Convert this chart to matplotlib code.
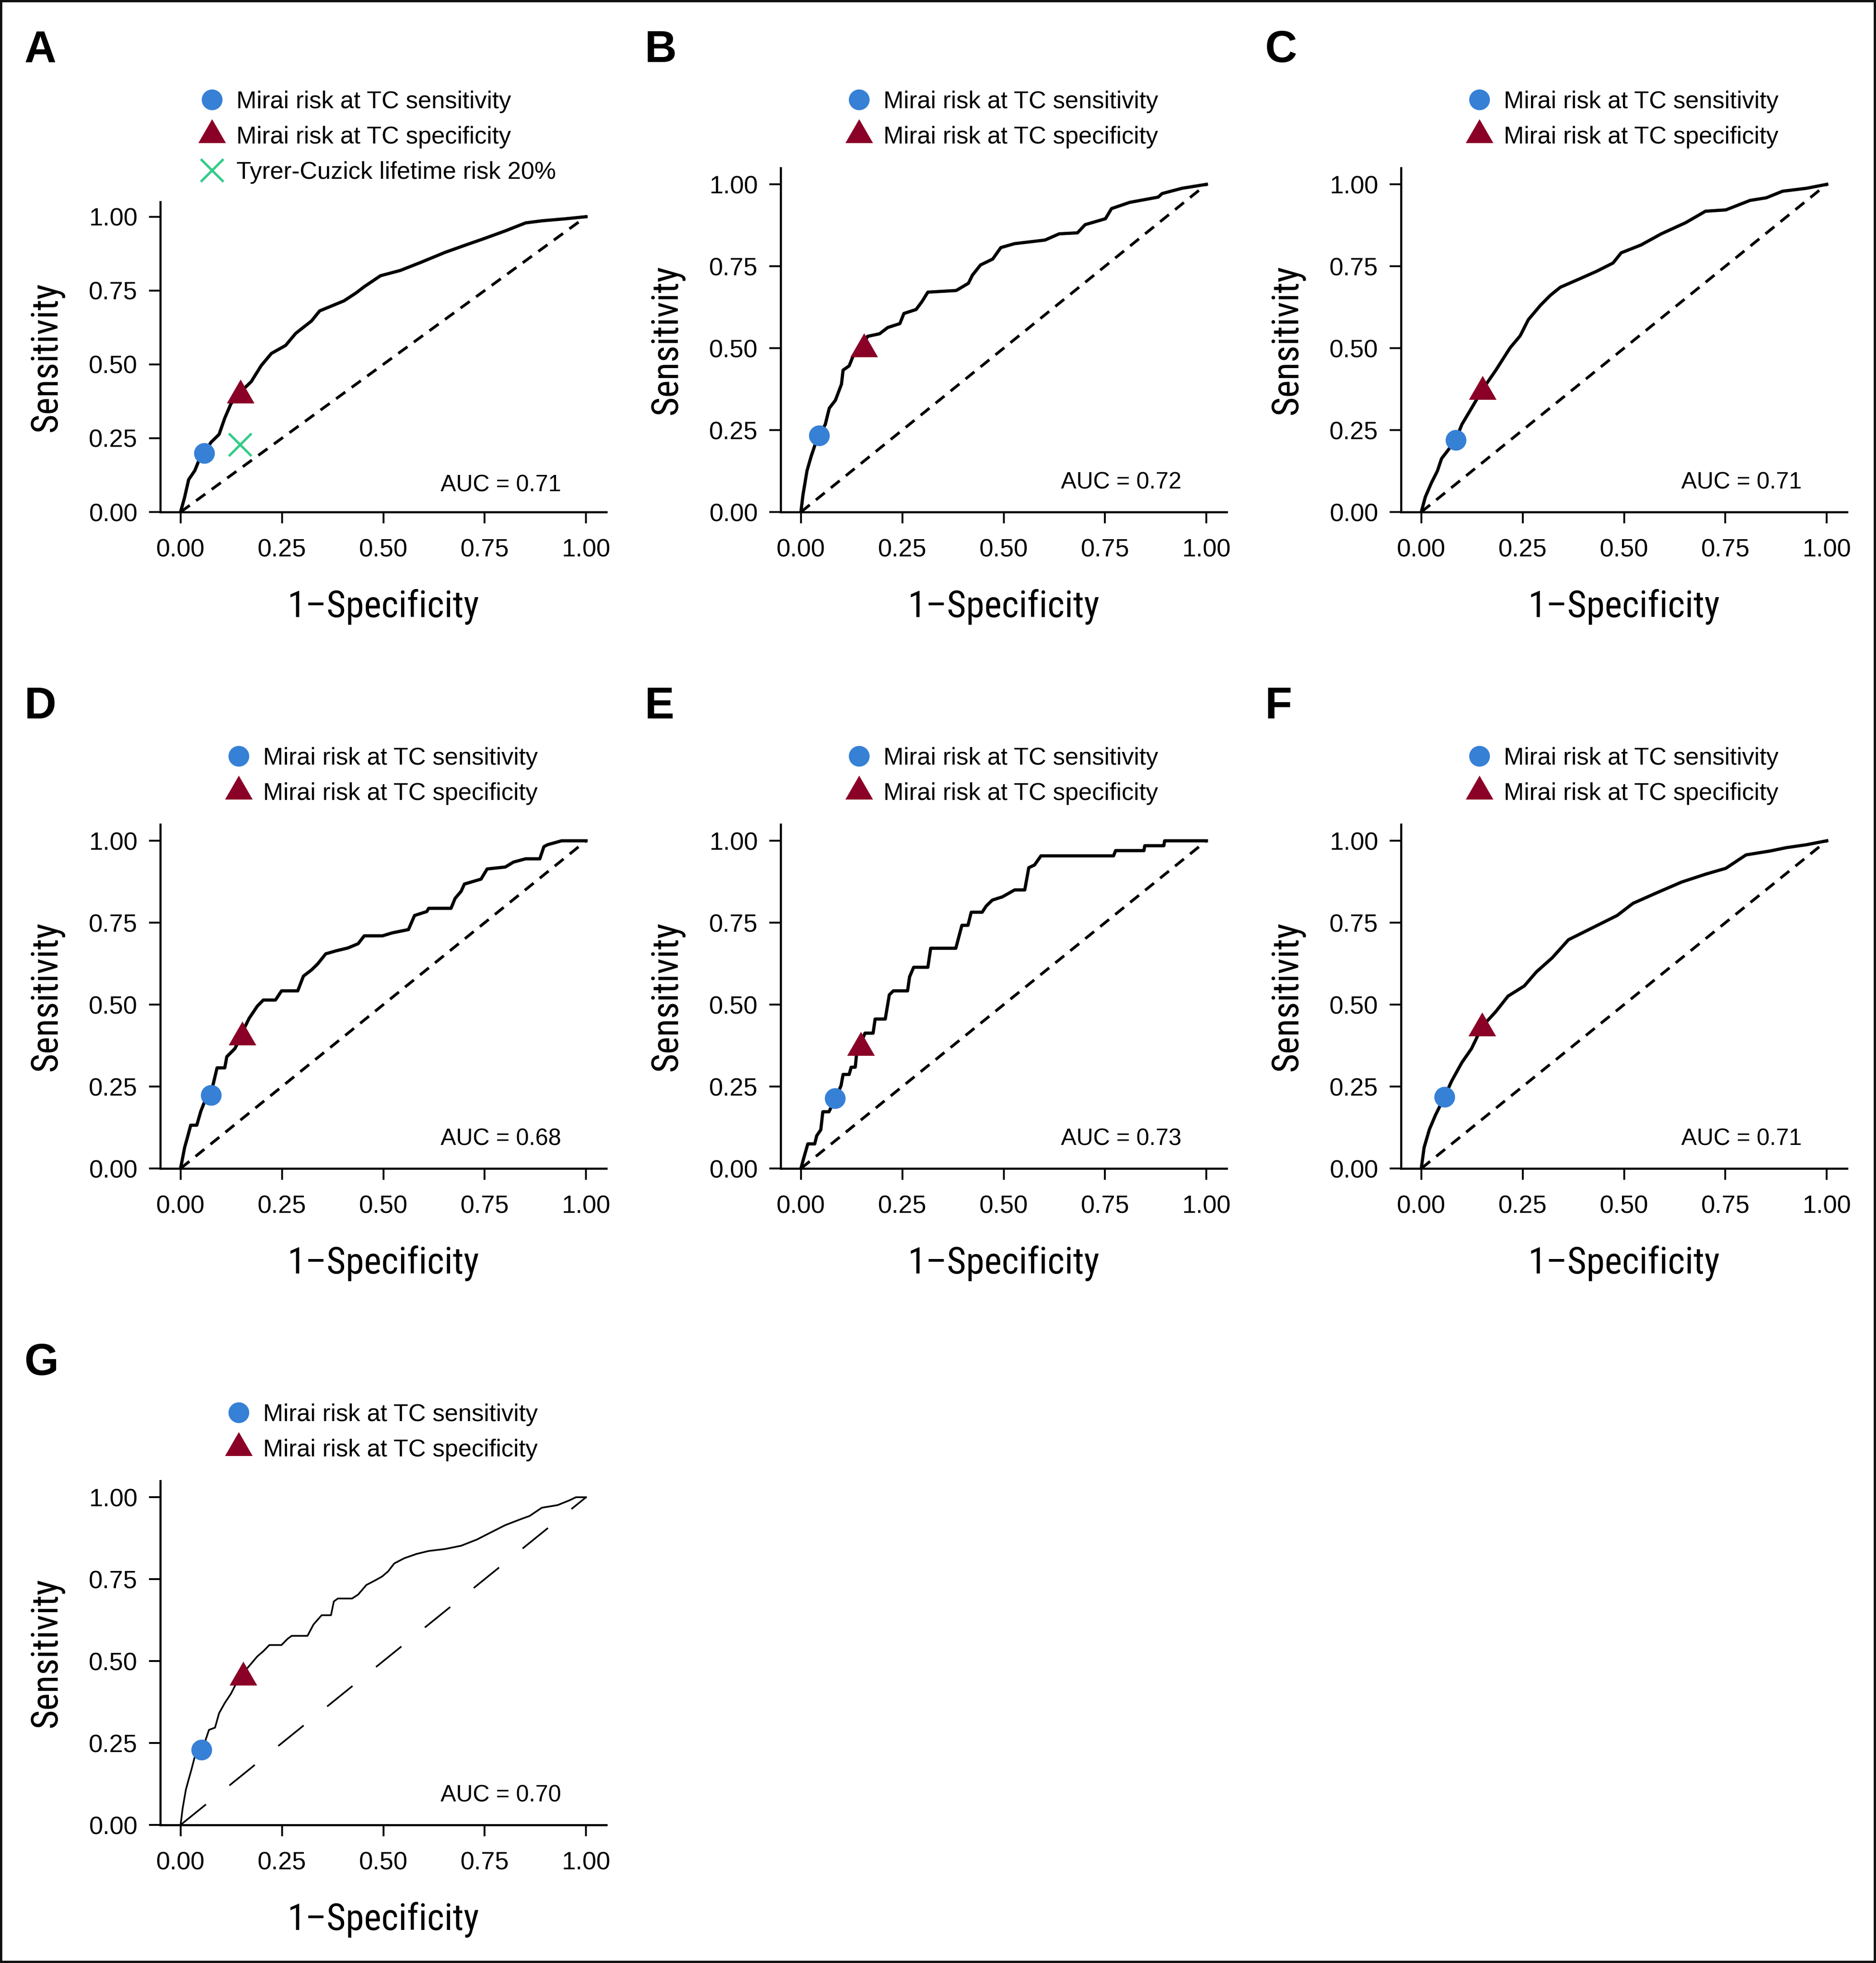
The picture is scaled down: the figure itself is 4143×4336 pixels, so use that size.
import matplotlib
matplotlib.use("Agg")
import matplotlib.pyplot as plt
from matplotlib import font_manager

plt.rcParams['font.family'] = ['Liberation Sans', 'DejaVu Sans']

# ROC curves: 1-specificity (fpr) and sensitivity (tpr)
a_fpr = [0, 0.01, 0.02, 0.035, 0.045, 0.058, 0.075, 0.095, 0.109, 0.124, 0.148, 0.174, 0.199, 0.224, 0.259, 0.284,
         0.323, 0.343, 0.403, 0.433, 0.453, 0.493, 0.542, 0.592, 0.652, 0.701, 0.751, 0.801, 0.851, 0.891, 0.950, 1.0]
a_tpr = [0, 0.05, 0.11, 0.14, 0.174, 0.199, 0.236, 0.263, 0.318, 0.366, 0.407, 0.441, 0.496, 0.537, 0.564, 0.605,
         0.647, 0.681, 0.715, 0.742, 0.763, 0.800, 0.818, 0.845, 0.879, 0.903, 0.927, 0.952, 0.979, 0.986, 0.993, 1.0]

b_fpr = [0, 0.005, 0.015, 0.025, 0.035, 0.045, 0.060, 0.070, 0.085, 0.100, 0.104, 0.119, 0.129, 0.154, 0.164, 0.194,
         0.214, 0.244, 0.254, 0.284, 0.299, 0.313, 0.383, 0.413, 0.423, 0.443, 0.473, 0.493, 0.527, 0.602, 0.637,
         0.682, 0.701, 0.751, 0.766, 0.811, 0.881, 0.891, 0.940, 0.990, 1.0]
b_tpr = [0, 0.052, 0.126, 0.169, 0.206, 0.234, 0.267, 0.317, 0.341, 0.39, 0.433, 0.446, 0.477, 0.507, 0.536, 0.544,
         0.563, 0.575, 0.606, 0.618, 0.643, 0.671, 0.676, 0.698, 0.723, 0.754, 0.772, 0.807, 0.819, 0.830, 0.849,
         0.852, 0.877, 0.895, 0.926, 0.945, 0.961, 0.972, 0.988, 0.998, 1.0]

c_fpr = [0, 0.01, 0.025, 0.040, 0.050, 0.065, 0.085, 0.100, 0.124, 0.150, 0.184, 0.219, 0.244, 0.264, 0.294, 0.318,
         0.343, 0.393, 0.433, 0.473, 0.493, 0.542, 0.592, 0.652, 0.701, 0.751, 0.811, 0.851, 0.891, 0.950, 1.0]
c_tpr = [0, 0.046, 0.089, 0.126, 0.163, 0.187, 0.22, 0.267, 0.317, 0.372, 0.433, 0.501, 0.538, 0.587, 0.631, 0.661,
         0.686, 0.713, 0.735, 0.760, 0.791, 0.815, 0.849, 0.883, 0.918, 0.922, 0.951, 0.959, 0.979, 0.988, 1.0]

d_fpr = [0, 0.01, 0.017, 0.025, 0.040, 0.050, 0.060, 0.075, 0.080, 0.090, 0.109, 0.114, 0.134, 0.144, 0.152, 0.169,
         0.189, 0.204, 0.234, 0.249, 0.289, 0.303, 0.323, 0.338, 0.358, 0.383, 0.413, 0.438, 0.453, 0.498, 0.522,
         0.562, 0.577, 0.607, 0.612, 0.667, 0.677, 0.692, 0.700, 0.741, 0.756, 0.801, 0.821, 0.851, 0.886, 0.896,
         0.905, 0.940, 1.0]
d_tpr = [0, 0.064, 0.095, 0.132, 0.132, 0.175, 0.206, 0.224, 0.255, 0.307, 0.307, 0.341, 0.366, 0.39, 0.415, 0.458,
         0.495, 0.514, 0.514, 0.542, 0.542, 0.587, 0.606, 0.624, 0.655, 0.664, 0.673, 0.686, 0.71, 0.71, 0.719,
         0.729, 0.772, 0.784, 0.794, 0.794, 0.824, 0.846, 0.868, 0.883, 0.914, 0.920, 0.935, 0.945, 0.945, 0.982,
         0.988, 1.0, 1.0]

e_fpr = [0, 0.007, 0.017, 0.034, 0.039, 0.049, 0.054, 0.069, 0.084, 0.099, 0.104, 0.119, 0.124, 0.134, 0.138, 0.148,
         0.158, 0.178, 0.183, 0.208, 0.218, 0.228, 0.263, 0.268, 0.278, 0.313, 0.320, 0.382, 0.397, 0.412, 0.420,
         0.447, 0.457, 0.472, 0.497, 0.527, 0.552, 0.562, 0.576, 0.592, 0.771, 0.776, 0.846, 0.848, 0.895, 0.897, 1.0]
e_tpr = [0, 0.032, 0.075, 0.075, 0.1, 0.118, 0.173, 0.173, 0.21, 0.253, 0.287, 0.287, 0.309, 0.309, 0.358, 0.383,
         0.413, 0.413, 0.456, 0.456, 0.53, 0.542, 0.542, 0.585, 0.614, 0.614, 0.672, 0.672, 0.742, 0.742, 0.782,
         0.782, 0.801, 0.819, 0.829, 0.85, 0.85, 0.918, 0.926, 0.954, 0.954, 0.97, 0.97, 0.985, 0.985, 1.0, 1.0]

f_fpr = [0, 0.007, 0.020, 0.035, 0.057, 0.075, 0.100, 0.124, 0.150, 0.184, 0.214, 0.254, 0.284, 0.323, 0.363, 0.423,
         0.483, 0.522, 0.582, 0.642, 0.701, 0.751, 0.801, 0.861, 0.900, 0.950, 1.0]
f_tpr = [0, 0.064, 0.119, 0.163, 0.218, 0.267, 0.323, 0.366, 0.433, 0.479, 0.526, 0.557, 0.6, 0.643, 0.698, 0.735,
         0.772, 0.809, 0.842, 0.874, 0.898, 0.916, 0.957, 0.969, 0.979, 0.988, 1.0]

g_fpr = [0, 0.005, 0.013, 0.020, 0.027, 0.035, 0.052, 0.060, 0.070, 0.085, 0.095, 0.109, 0.124, 0.139, 0.154, 0.174,
         0.189, 0.204, 0.219, 0.249, 0.264, 0.274, 0.313, 0.328, 0.348, 0.371, 0.378, 0.388, 0.423, 0.438, 0.458,
         0.478, 0.497, 0.512, 0.527, 0.552, 0.582, 0.612, 0.652, 0.692, 0.731, 0.761, 0.801, 0.841, 0.861, 0.891,
         0.930, 0.960, 0.975, 0.995, 1.0]
g_tpr = [0, 0.05, 0.107, 0.139, 0.17, 0.208, 0.23, 0.253, 0.29, 0.297, 0.341, 0.372, 0.4, 0.436, 0.463, 0.492,
         0.514, 0.53, 0.549, 0.549, 0.568, 0.577, 0.577, 0.612, 0.64, 0.64, 0.682, 0.691, 0.691, 0.703, 0.732,
         0.745, 0.758, 0.774, 0.798, 0.814, 0.827, 0.836, 0.842, 0.852, 0.871, 0.89, 0.915, 0.934, 0.943, 0.968,
         0.976, 0.991, 1.0, 1.0, 1.0]

# operating points: Mirai at TC sensitivity (circle), at TC specificity (triangle)
sens_pts = [(0.058, 0.199), (0.045, 0.234), (0.085, 0.22), (0.075, 0.224), (0.084, 0.214), (0.057, 0.218), (0.052, 0.23)]
spec_pts = [(0.148, 0.396), (0.155, 0.497), (0.151, 0.367), (0.152, 0.401), (0.148, 0.369), (0.150, 0.428), (0.154, 0.451)]
tc_pt = (0.146, 0.229)  # Tyrer-Cuzick 20% lifetime risk, panel A only

auc_values = [0.71, 0.72, 0.71, 0.68, 0.73, 0.71, 0.70]
letters = ["A", "B", "C", "D", "E", "F", "G"]

lab_sens = "Mirai risk at TC sensitivity"
lab_spec = "Mirai risk at TC specificity"
lab_tc = "Tyrer-Cuzick lifetime risk 20%"

BLUE = "#3680D6"
RED = "#8B0026"
GREEN = "#33CC88"
TRI = [(0, 1.1547), (-1, -0.5774), (1, -0.5774)]

# axis titles use a narrow face; pick whatever condensed font is around
fonts = font_manager.fontManager.ttflist
names = {f.name for f in fonts}
title_font = {"family": "Liberation Sans"}
for nm in ["Liberation Sans Narrow", "Arial Narrow", "Roboto Condensed", "Open Sans Condensed", "Noto Sans Condensed"]:
    if nm in names:
        title_font = {"family": nm}
        break
else:
    for nm in ["Roboto", "Noto Sans", "Open Sans", "DejaVu Sans"]:
        if any(f.name == nm and "ondensed" in f.fname for f in fonts):
            title_font = {"family": nm, "stretch": "condensed"}
            break

W, H, DPI = 4143, 4336, 300
fig = plt.figure(figsize=(W / DPI, H / DPI), dpi=DPI)
fig.patch.set_edgecolor("#111111")
fig.patch.set_linewidth(2.0)

curves = [(a_fpr, a_tpr), (b_fpr, b_tpr), (c_fpr, c_tpr), (d_fpr, d_tpr), (e_fpr, e_tpr), (f_fpr, f_tpr), (g_fpr, g_tpr)]

# layout in pixels: column offset, row offset
col_x = [0, 1370, 2740, 0, 1370, 2740, 0]
row_y = [0, 0, 0, 1450, 1450, 1450, 2900]

px = 72.0 / DPI  # points per pixel
xlabels = []
ylabels = []

for i in range(7):
    left = 354 + col_x[i]
    right = 1339 + col_x[i]
    top = (446 if i == 0 else 371) + row_y[i]
    bot = 1131 + row_y[i]
    ax = fig.add_axes([left / W, 1 - bot / H, (right - left) / W, (bot - top) / H])
    fpr, tpr = curves[i]
    if i == 6:
        ax.plot(fpr, tpr, color="black", lw=0.9, zorder=3)
        ax.plot([0, 1], [0, 1], color="black", lw=0.9, linestyle=(0, (19.2, 17.8)), zorder=2)
    else:
        ax.plot(fpr, tpr, color="black", lw=1.7, zorder=3, solid_joinstyle="round")
        ax.plot([0, 1], [0, 1], color="black", lw=1.5, linestyle=(0, (4.0, 2.8)), zorder=2)

    ax.plot(*sens_pts[i], linestyle="none", marker="o", ms=11, color=BLUE, mec="none", zorder=5, label=lab_sens)
    ax.plot(*spec_pts[i], linestyle="none", marker=TRI, ms=16.9, color=RED, mec="none", zorder=5, label=lab_spec)
    if i == 0:
        ax.plot(*tc_pt, linestyle="none", marker="x", ms=12, mew=1.3, color=GREEN, zorder=5, label=lab_tc)

    ax.text(0.79, 0.09, "AUC = %.2f" % auc_values[i], ha="center", va="center", fontsize=12.3)

    ax.set_xlim(-0.05, 1.05)
    ax.set_ylim(0, 1.05)
    ticks = [0, 0.25, 0.5, 0.75, 1.0]
    ax.set_xticks(ticks)
    ax.set_yticks(ticks)
    ax.set_xticklabels(["%.2f" % t for t in ticks])
    ax.set_yticklabels(["%.2f" % t for t in ticks])
    ax.tick_params(length=6, width=1.0, labelsize=13.3, color="black")
    ax.tick_params(axis="x", pad=8)
    ax.tick_params(axis="y", pad=6)
    for s in ["top", "right"]:
        ax.spines[s].set_visible(False)
    for s in ["left", "bottom"]:
        ax.spines[s].set_linewidth(1.1)

    hgt = bot - top
    xl = ax.set_xlabel("1\u2013Specificity", fontsize=20, **title_font)
    ax.xaxis.label.set_va("baseline")
    ax.xaxis.set_label_coords(0.5, -(1363 + row_y[i] - bot) / hgt)
    yl = ax.set_ylabel("Sensitivity", fontsize=20, **title_font)
    ax.yaxis.label.set_va("baseline")
    ax.yaxis.set_label_coords((125 + col_x[i] - left) / (right - left), 0.5)
    xlabels.append(xl)
    ylabels.append(yl)

    # legend above the panel
    fs = 12.85
    text_start = (522 if i == 0 else 581) + col_x[i]
    box_left = text_start - (1.0 + 0.5) * fs / px
    first_marker = 223 + row_y[i]
    ltop = first_marker + 0.35 * fs / px - 0.78 * fs / px
    ax.legend(loc="upper left", bbox_to_anchor=(box_left / W, 1 - ltop / H), bbox_transform=fig.transFigure,
              frameon=False, borderpad=0, borderaxespad=0, handlelength=1.0, handletextpad=0.5,
              labelspacing=0.52, fontsize=fs)

    fig.text((54 + col_x[i]) / W, 1 - (137 + row_y[i]) / H, letters[i], fontsize=23.5, fontweight="bold",
             ha="left", va="baseline")

# size the axis titles so "1-Specificity" is as wide as in the source (about 424 px)
fig.canvas.draw()
r = fig.canvas.get_renderer()
w = xlabels[0].get_window_extent(r).width
new_fs = 20 * 424.0 / w
for t in xlabels + ylabels:
    t.set_fontsize(new_fs)

fig.savefig("out.png", dpi=DPI)
